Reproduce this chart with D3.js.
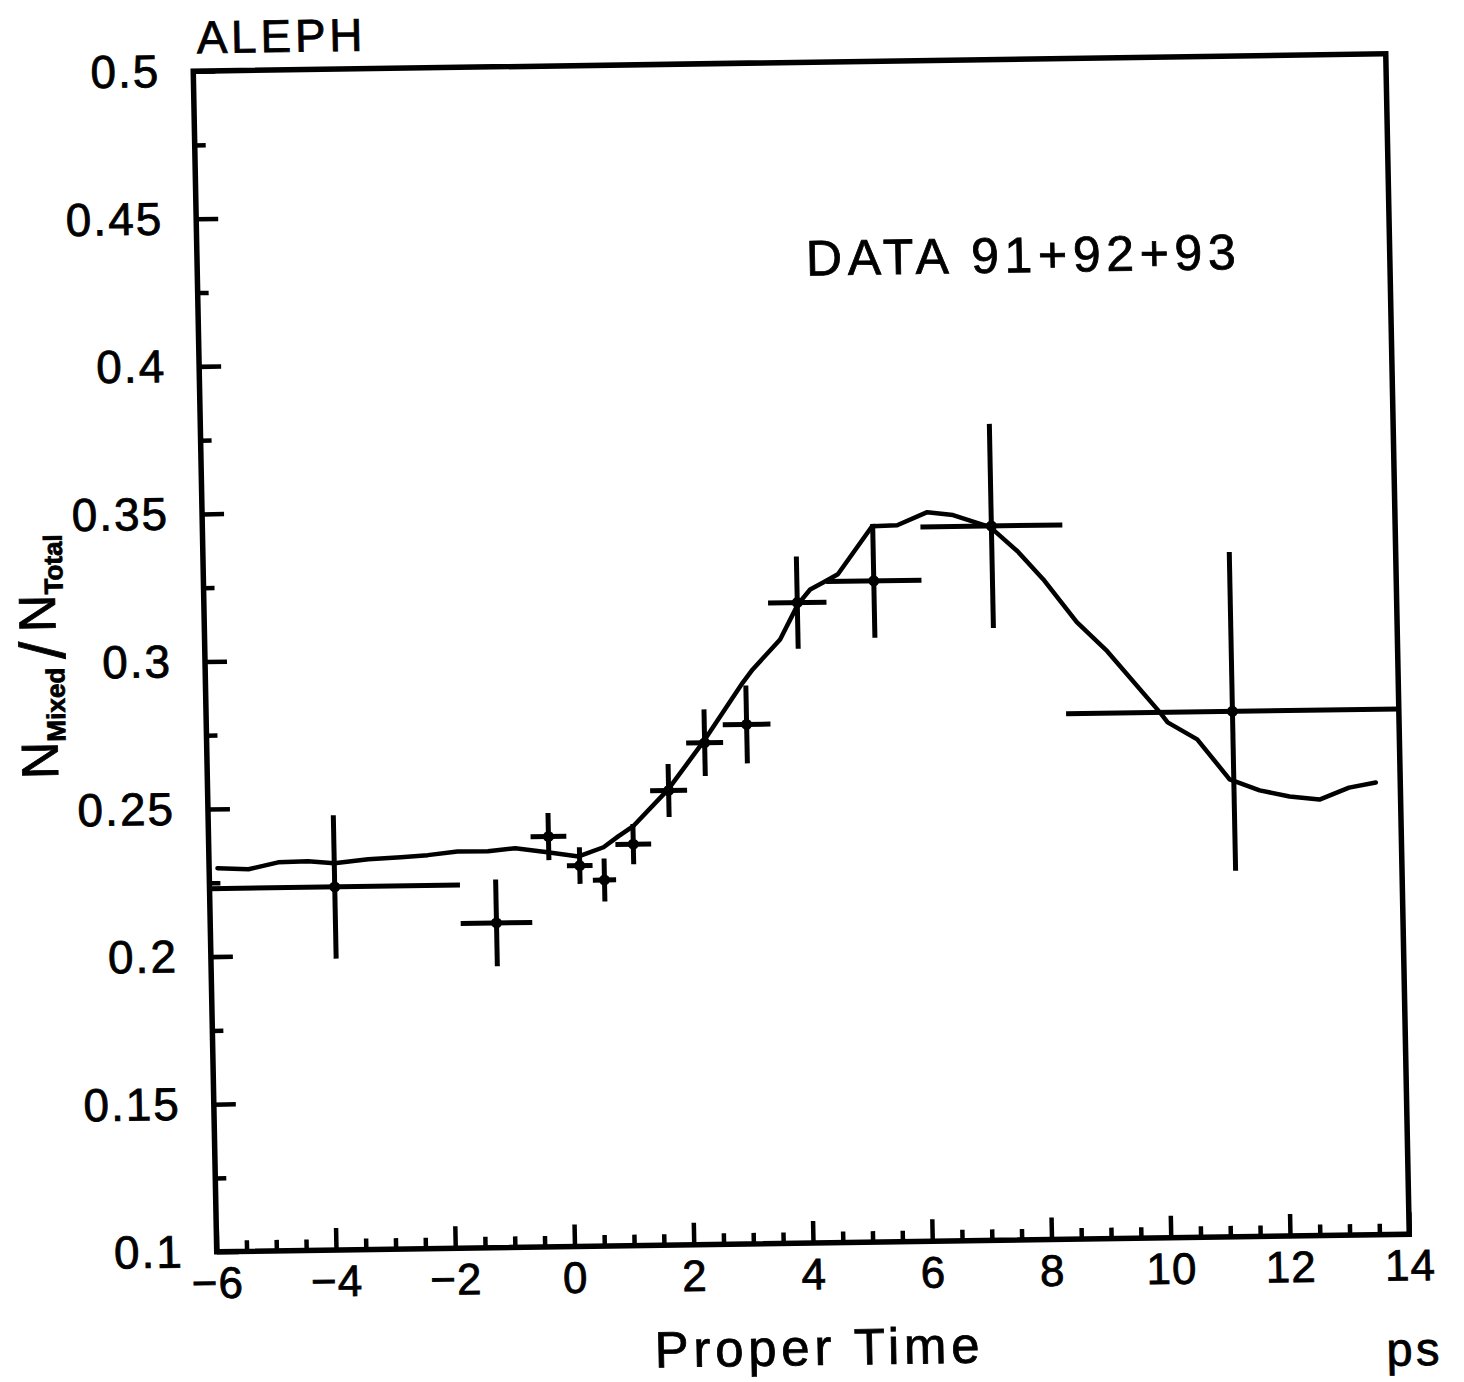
<!DOCTYPE html>
<html><head><meta charset="utf-8">
<script src="https://cdn.jsdelivr.net/npm/d3@7"></script>
<style>
html,body{margin:0;padding:0;background:#fff;}
svg{display:block;}
</style></head><body>
<svg id="chart" width="1464" height="1382"></svg>
<script>
// ---- data ----
const binCenters  = [-3.9, -1.2, -0.3, 0.215, 0.625, 1.12, 1.73, 2.35, 3.06, 3.95, 5.24, 7.23, 11.21];
const binLow      = [-6.0, -1.8, -0.6, 0.0, 0.43, 0.82, 1.42, 2.04, 2.66, 3.46, 4.44, 6.04, 8.42];
const binHigh     = [-1.8, -0.6, 0.0, 0.43, 0.82, 1.42, 2.04, 2.66, 3.46, 4.44, 6.04, 8.42, 14.0];
const ratioValues = [0.223, 0.210, 0.239, 0.229, 0.224, 0.236, 0.254, 0.270, 0.276, 0.317, 0.324, 0.342, 0.278];
const ratioErrors = [0.0243, 0.0147, 0.008, 0.0062, 0.0073, 0.0068, 0.009, 0.0113, 0.0132, 0.0156, 0.0193, 0.0346, 0.054];

const curveTimes  = [-5.86,-5.34,-4.84,-4.34,-3.90,-3.33,-2.78,-2.33,-1.83,-1.32,-0.86,-0.32,0.20,0.62,0.87,1.12,1.72,2.32,3.01,3.18,3.65,3.96,4.17,4.39,4.64,5.23,5.65,6.16,6.59,7.21,7.66,8.08,8.63,9.13,9.99,10.12,10.61,11.14,11.64,12.14,12.64,13.14,13.59];
const curveValues = [0.2299,0.2294,0.2316,0.2318,0.2310,0.2322,0.2327,0.2333,0.2344,0.2343,0.2352,0.2337,0.2321,0.2351,0.2387,0.2420,0.2543,0.2701,0.2902,0.2946,0.3046,0.3164,0.3214,0.3237,0.3264,0.3425,0.3427,0.3470,0.3459,0.3416,0.3333,0.3237,0.3090,0.2990,0.2781,0.2746,0.2687,0.2550,0.2511,0.2489,0.2477,0.2516,0.2532];

const xMajorTicks = [-6, -4, -2, 0, 2, 4, 6, 8, 10, 12, 14];
const xTickLabels = ["\u22126", "\u22124", "\u22122", "0", "2", "4", "6", "8", "10", "12", "14"];
const yMajorTicks = [0.1, 0.15, 0.2, 0.25, 0.3, 0.35, 0.4, 0.45, 0.5];
const yTickLabels = ["0.1", "0.15", "0.2", "0.25", "0.3", "0.35", "0.4", "0.45", "0.5"];

// ---- layout ----
const FONT = "'Liberation Sans', Arial, Helvetica, sans-serif";
const frame = {left: 205, top: 63, right: 1398, bottom: 1243};
const svg = d3.select("#chart");
svg.append("rect").attr("width", 1464).attr("height", 1382).attr("fill", "#fff");

// slight skew of the scanned page
const g = svg.append("g")
  .attr("transform", "matrix(0.99958,-0.014669,0.019915,1.000424,-12.917,11.23)");

const x = d3.scaleLinear().domain([-6, 14]).range([frame.left, frame.right]);
const y = d3.scaleLinear().domain([0.1, 0.5]).range([frame.bottom, frame.top]);

const xMinor = d3.range(-6, 14.001, 0.5).filter(v => Math.abs(v / 2 - Math.round(v / 2)) > 1e-6);
const yMinor = d3.range(0.125, 0.5, 0.05);

function styleAxis(sel, size, spacing) {
  sel.select(".domain").remove();
  sel.attr("font-family", FONT).attr("font-size", size);
  sel.selectAll(".tick line").attr("stroke", "#000").attr("stroke-width", 4.5);
  sel.selectAll(".tick text").attr("fill", "#000").attr("letter-spacing", spacing)
    .attr("stroke", "#000").attr("stroke-width", 0.8);
}

// x axis
g.append("g").attr("transform", `translate(0,${frame.bottom})`)
  .call(d3.axisBottom(x).tickValues(xMinor).tickFormat("").tickSize(-11).tickSizeOuter(0))
  .call(s => styleAxis(s, 44, 0));
g.append("g").attr("transform", `translate(0,${frame.bottom})`)
  .call(d3.axisBottom(x).tickValues(xMajorTicks).tickFormat((d, i) => xTickLabels[i])
        .tickSize(-22).tickSizeOuter(0).tickPadding(15))
  .call(s => styleAxis(s, 44, 1));

// y axis
g.append("g").attr("transform", `translate(${frame.left},0)`)
  .call(d3.axisLeft(y).tickValues(yMinor).tickFormat("").tickSize(-11).tickSizeOuter(0))
  .call(s => styleAxis(s, 46, 0));
g.append("g").attr("transform", `translate(${frame.left},0)`)
  .call(d3.axisLeft(y).tickValues(yMajorTicks).tickFormat((d, i) => yTickLabels[i])
        .tickSize(-22).tickSizeOuter(0).tickPadding(33))
  .call(s => styleAxis(s, 46, 2));

// frame
g.append("rect")
  .attr("x", frame.left).attr("y", frame.top)
  .attr("width", frame.right - frame.left).attr("height", frame.bottom - frame.top)
  .attr("fill", "none").attr("stroke", "#000").attr("stroke-width", 5.5);

// curve
const curveData = curveTimes.map((t, i) => [t, curveValues[i]]);
g.append("path").datum(curveData)
  .attr("d", d3.line().x(d => x(d[0])).y(d => y(d[1])))
  .attr("fill", "none").attr("stroke", "#000").attr("stroke-width", 4.5)
  .attr("stroke-linejoin", "round").attr("stroke-linecap", "round");

// data points with error bars
const pts = binCenters.map((c, i) => ({c, lo: binLow[i], hi: binHigh[i], v: ratioValues[i], e: ratioErrors[i]}));
const pg = g.append("g").attr("stroke", "#000").attr("stroke-width", 5);
pg.selectAll("line.h").data(pts).join("line").attr("class", "h")
  .attr("x1", d => x(d.lo)).attr("x2", d => x(d.hi))
  .attr("y1", d => y(d.v)).attr("y2", d => y(d.v));
pg.selectAll("line.v").data(pts).join("line").attr("class", "v")
  .attr("x1", d => x(d.c)).attr("x2", d => x(d.c))
  .attr("y1", d => y(d.v - d.e)).attr("y2", d => y(d.v + d.e));
g.selectAll("circle.pt").data(pts).join("circle").attr("class", "pt")
  .attr("cx", d => x(d.c)).attr("cy", d => y(d.v)).attr("r", 5.5).attr("fill", "#000");

// texts
const tg = g.append("g").attr("font-family", FONT).attr("fill", "#000")
  .attr("stroke", "#000").attr("stroke-width", 0.8);
tg.append("text").attr("x", 209).attr("y", 45)
  .attr("font-size", 46).attr("textLength", 166)
  .text("ALEPH");
tg.append("text").attr("x", 814).attr("y", 276)
  .attr("font-size", 50).attr("textLength", 430)
  .text("DATA 91+92+93");
tg.append("text").attr("x", 641).attr("y", 1365)
  .attr("font-size", 51).attr("textLength", 325)
  .text("Proper Time");
tg.append("text").attr("x", 1373).attr("y", 1374)
  .attr("font-size", 47).attr("textLength", 53)
  .text("ps");

const yt = tg.append("text").attr("transform", "translate(56,646) rotate(-90)")
  .attr("text-anchor", "middle");
yt.append("tspan").attr("font-size", 52).text("N");
yt.append("tspan").attr("font-size", 26).attr("font-weight", "bold").attr("dy", 8).text("Mixed");
yt.append("tspan").attr("font-size", 64).attr("dy", 1).attr("dx", 9).text("/");
yt.append("tspan").attr("font-size", 52).attr("dy", -9).attr("dx", 9).text("N");
yt.append("tspan").attr("font-size", 26).attr("font-weight", "bold").attr("dy", 8).text("Total");
</script>
</body></html>
